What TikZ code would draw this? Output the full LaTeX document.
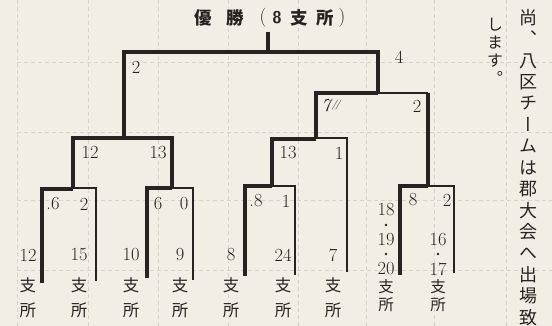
\documentclass[tikz,border=0pt]{standalone}
\usepackage{fontspec}
\newfontfamily\jp{Noto Sans CJK JP}
\newfontfamily\jpv[RawFeature={+vert}]{Noto Sans CJK JP}
\definecolor{paper}{RGB}{240,238,229}
\definecolor{ink}{RGB}{38,36,34}
\definecolor{gridc}{RGB}{214,212,204}
\tikzset{
  win/.style={line width=3.2pt, draw=ink, line join=miter},
  lose/.style={line width=1.4pt, draw=ink},
  mid/.style={line width=1.9pt, draw=ink},
  num/.style={font=\fontsize{18.5}{20}\selectfont, text=ink, inner sep=0pt},
  kanji/.style={font=\jp\fontsize{16.5}{18}\selectfont, text=ink, inner sep=0pt},
  smallkanji/.style={font=\jp\fontsize{15.5}{17}\selectfont, text=ink, inner sep=0pt},
  titlek/.style={font=\jp\bfseries\fontsize{17.5}{19}\selectfont, text=ink, inner sep=0pt},
  dotmark/.style={circle, fill=ink, inner sep=0pt, minimum size=2.6pt},
  paperlines/.style={draw=gridc, line width=0.6pt, dash pattern=on 4pt off 3pt}
}
\begin{document}
\begin{tikzpicture}[x=1pt,y=-1pt]
\fill[paper] (0,0) rectangle (552,326);
\useasboundingbox (0,0) rectangle (552,326);
% faint paper grid
\foreach \gx in {17,88,158,228,298,366,434,506} \draw[paperlines] (\gx,0) -- (\gx,326);
\foreach \gy in {62,132,200,270} \draw[paperlines] (17,\gy) -- (552,\gy);

% title
\node[titlek] (t1) at (203,18) {優};
\node[titlek] (t2) at (235,18) {勝};
\node[font=\fontsize{19}{20}\selectfont, text=ink, inner sep=0pt] (t3) at (263,18) {(};
\node[font=\sffamily\bfseries\fontsize{17}{19}\selectfont, text=ink, inner sep=0pt] (t4) at (277,18) {8};
\node[titlek] (t5) at (299,18) {支};
\node[titlek] (t6) at (325,18) {所};
\node[font=\fontsize{19}{20}\selectfont, text=ink, inner sep=0pt] (t7) at (342,18) {)};

% coordinates of bracket
\coordinate (r0) at (268,32);
\coordinate (r1) at (268,52);
\coordinate (L1) at (124,52);
\coordinate (R1) at (378,52);
\coordinate (L2) at (124,138);
\coordinate (R2) at (378,93);
% left semi
\coordinate (A1) at (73,138);
\coordinate (A2) at (172,138);
\coordinate (A1b) at (73,189);
\coordinate (A2b) at (172,188);
% quarter 1
\coordinate (Q1l) at (42,189);
\coordinate (Q1r) at (96,188);
\coordinate (Q1lb) at (42,283);
\coordinate (Q1rb) at (96,281);
% quarter 2
\coordinate (Q2l) at (147,188);
\coordinate (Q2r) at (193,188);
\coordinate (Q2lb) at (147,278);
\coordinate (Q2rb) at (193,280);
% right semi
\coordinate (B1) at (316,93);
\coordinate (B2) at (428,93);
\coordinate (B1b) at (316,139);
\coordinate (B2b) at (428,186);
% quarter 3
\coordinate (Q3l) at (272,139);
\coordinate (Q3m) at (316,138);
\coordinate (Q3r) at (347,138);
\coordinate (Q3lb) at (272,186);
\coordinate (Q3rb) at (347,272);
% quarter 4
\coordinate (Q4l) at (245,186);
\coordinate (Q4r) at (295,186);
\coordinate (Q4lb) at (245,276);
\coordinate (Q4rb) at (295,275);
% quarter 5
\coordinate (Q5l) at (400,186);
\coordinate (Q5r) at (454,186);
\coordinate (Q5lb) at (400,275);
\coordinate (Q5rb) at (454,273);

% bracket lines
\draw[win] (r0) -- (r1);
\draw[win] (L2) -- (L1) -- (R1) -- (R2);
\draw[win] (A1b) -- (A1) -- (A2) -- (A2b);
\draw[win] (Q1lb) -- (Q1l) -- (A1b);
\draw[lose] (A1b |- Q1r) -- (Q1r) -- (Q1rb);
\draw[win] (Q2lb) -- (Q2l) -- (A2b);
\draw[lose] (A2b) -- (Q2r) -- (Q2rb);
\draw[win] (B1b) -- (B1) -- (R2);
\draw[mid] (R2) -- (B2);
\draw[win] (B2) -- (B2b);
\draw[win] (Q3lb) -- (Q3l) -- (B1b);
\draw[lose] (Q3m) -- (Q3r) -- (Q3rb);
\draw[win] (Q4lb) -- (Q4l) -- (Q3lb);
\draw[lose] (Q3lb) -- (Q4r) -- (Q4rb);
\draw[win] (Q5lb) -- (Q5l) -- (B2b);
\draw[lose] (B2b) -- (Q5r) -- (Q5rb);

% scores
\node[num] (s4) at (399,57) {4};
\node[num] (sL) at (136,67) {2};
\node[num] (s12) at (90,152) {12};
\node[num] (s13a) at (158,153) {13};
\node[num] (s7) at (331,106) {\textit{7}\kern-1pt\raisebox{4pt}{\fontsize{10}{10}\selectfont\itshape /\kern-1.5pt/}};
\node[num] (s2b) at (417,106) {2};
\node[num] (s13b) at (288,153) {13};
\node[num] (s1a) at (339,153) {1};
\node[num] (s6a) at (53,204) {.6};
\node[num] (s2c) at (84,204) {2};
\node[num] (s6b) at (158,204) {6};
\node[num] (s0) at (184,204) {0};
\node[num] (s8a) at (256,201) {.8};
\node[num] (s1b) at (286,201) {1};
\node[num] (s8b) at (413,200) {8};
\node[num] (s2d) at (447,200) {2};

% leaves
\foreach \nm/\lx/\lab in {a/28/12, b/79/15, c/131/10, d/180/9, e/231/8, f/283/24, g/333/7} {
  \node[num] (n\nm) at (\lx,255) {\lab};
  \node[kanji] (k\nm) at (\lx,285) {支};
  \node[kanji] (m\nm) at (\lx,310) {所};
}
% 18・19・20
\node[num] (h18) at (386,210) {18};
\node[dotmark] (hd1) at (386,225) {};
\node[num] (h19) at (386,240) {19};
\node[dotmark] (hd2) at (386,254) {};
\node[num] (h20) at (386,269) {20};
\node[smallkanji] (hk) at (386,287) {支};
\node[smallkanji] (hm) at (386,305) {所};
% 16・17
\node[num] (i16) at (438,240) {16};
\node[dotmark] (id1) at (438,254) {};
\node[num] (i17) at (438,269) {17};
\node[smallkanji] (ik) at (438,287) {支};
\node[smallkanji] (im) at (438,305) {所};

% vertical text on the right
\node[anchor=north, inner sep=0pt, text=ink, font=\jpv\fontsize{18}{21.4}\selectfont] (colA) at (528,9)
 {\begin{tabular}{@{}c@{}}尚\\、\\八\\区\\チ\\ー\\ム\\は\\郡\\大\\会\\へ\\出\\場\\致\end{tabular}};
\node[anchor=north, inner sep=0pt, text=ink, font=\jpv\fontsize{16}{17.5}\selectfont] (colB) at (495,18)
 {\begin{tabular}{@{}c@{}}し\\ま\\す\\。\end{tabular}};
\end{tikzpicture}
\end{document}
